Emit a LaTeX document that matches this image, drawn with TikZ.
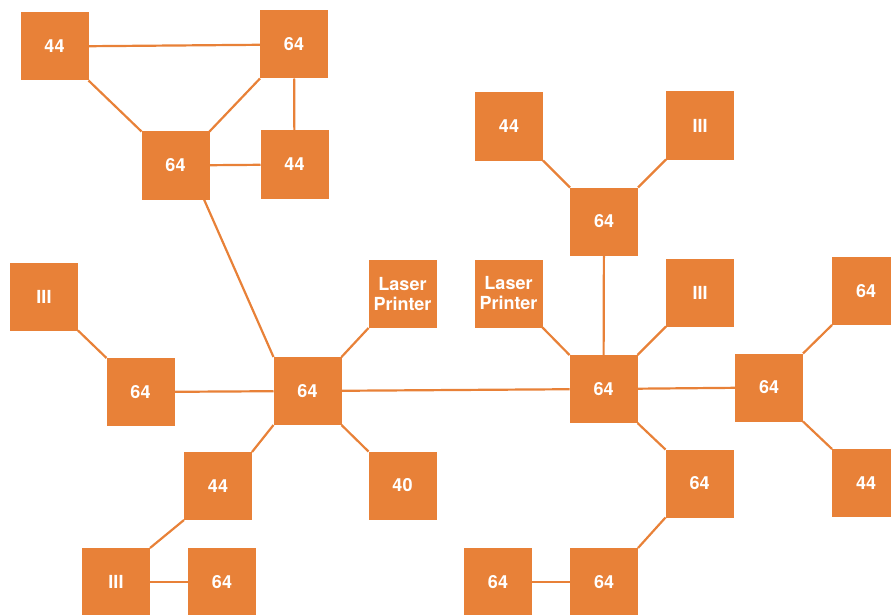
\documentclass[tikz,border=0pt]{standalone}
\usepackage{fontspec}
\setmainfont{TeX Gyre Heros}
\usepackage{xcolor}
\definecolor{myorange}{RGB}{232,129,56}
\tikzstyle{unit}=[rectangle,fill=myorange,minimum size=68,inner sep=0,outer sep=0,text=white,font=\bfseries\fontsize{18}{20}\selectfont,align=center]
\tikzstyle{link}=[myorange,line width=2.2]

\begin{document}
\begin{tikzpicture}[x=1pt,y=-1pt]
    \clip (0,0) rectangle (891,615);

    % top left ring
    \node[unit] (ringA) at (54.5,46.5) {44};
    \node[unit] (ringB) at (294,44.5) {64};
    \node[unit] (ringC) at (175.5,165.5) {64};
    \node[unit] (ringD) at (294.5,164.5) {44};

    % left hub
    \node[unit] (hub) at (307.5,391) {64};
    \node[unit] (leftIII) at (44,296.5) {III};
    \node[unit] (left64) at (140.5,392) {64};
    \node[unit] (printerL) at (402.5,294) {Laser\\Printer};
    \node[unit] (low44) at (218,486) {44};
    \node[unit] (low40) at (402.5,485.5) {40};
    \node[unit] (botIII) at (116,582) {III};
    \node[unit] (bot64) at (222,582) {64};

    % right hub
    \node[unit] (hubR) at (603.5,389) {64};
    \node[unit] (printerR) at (508.5,293.5) {Laser\\Printer};
    \node[unit] (rightIII) at (700,292.5) {III};
    \node[unit] (up64) at (604,221.5) {64};
    \node[unit] (up44) at (509,126.5) {44};
    \node[unit] (upIII) at (700,125.5) {III};
    \node[unit] (far64) at (769,387.5) {64};
    \node[unit] (edge64) at (866,291) {64};
    \node[unit] (edge44) at (866,483) {44};
    \node[unit] (down64) at (699.5,483.5) {64};
    \node[unit] (botR64) at (604,582) {64};
    \node[unit] (botL64) at (498,582) {64};

    \draw[link] (ringA) -- (ringB);
    \draw[link] (ringA.south east) -- (ringC.north west);
    \draw[link] (ringB.south west) -- (ringC.north east);
    \draw[link] (ringB) -- (ringD);
    \draw[link] (ringC) -- (ringD);
    \draw[link] (ringC.-50) -- (hub.north west);

    \draw[link] (leftIII.south east) -- (left64.north west);
    \draw[link] (left64) -- (hub);
    \draw[link] (hub.north east) -- (printerL.south west);
    \draw[link] (hub.south west) -- (low44.north east);
    \draw[link] (hub.south east) -- (low40.north west);
    \draw[link] (low44.south west) -- (botIII.north east);
    \draw[link] (botIII) -- (bot64);
    \draw[link] (hub) -- (hubR);

    \draw[link] (hubR.north west) -- (printerR.south east);
    \draw[link] (hubR) -- (up64);
    \draw[link] (hubR.north east) -- (rightIII.south west);
    \draw[link] (up64.north west) -- (up44.south east);
    \draw[link] (up64.north east) -- (upIII.south west);
    \draw[link] (hubR) -- (far64);
    \draw[link] (far64.north east) -- (edge64.south west);
    \draw[link] (far64.south east) -- (edge44.north west);
    \draw[link] (hubR.south east) -- (down64.north west);
    \draw[link] (down64.south west) -- (botR64.north east);
    \draw[link] (botL64) -- (botR64);
\end{tikzpicture}
\end{document}
